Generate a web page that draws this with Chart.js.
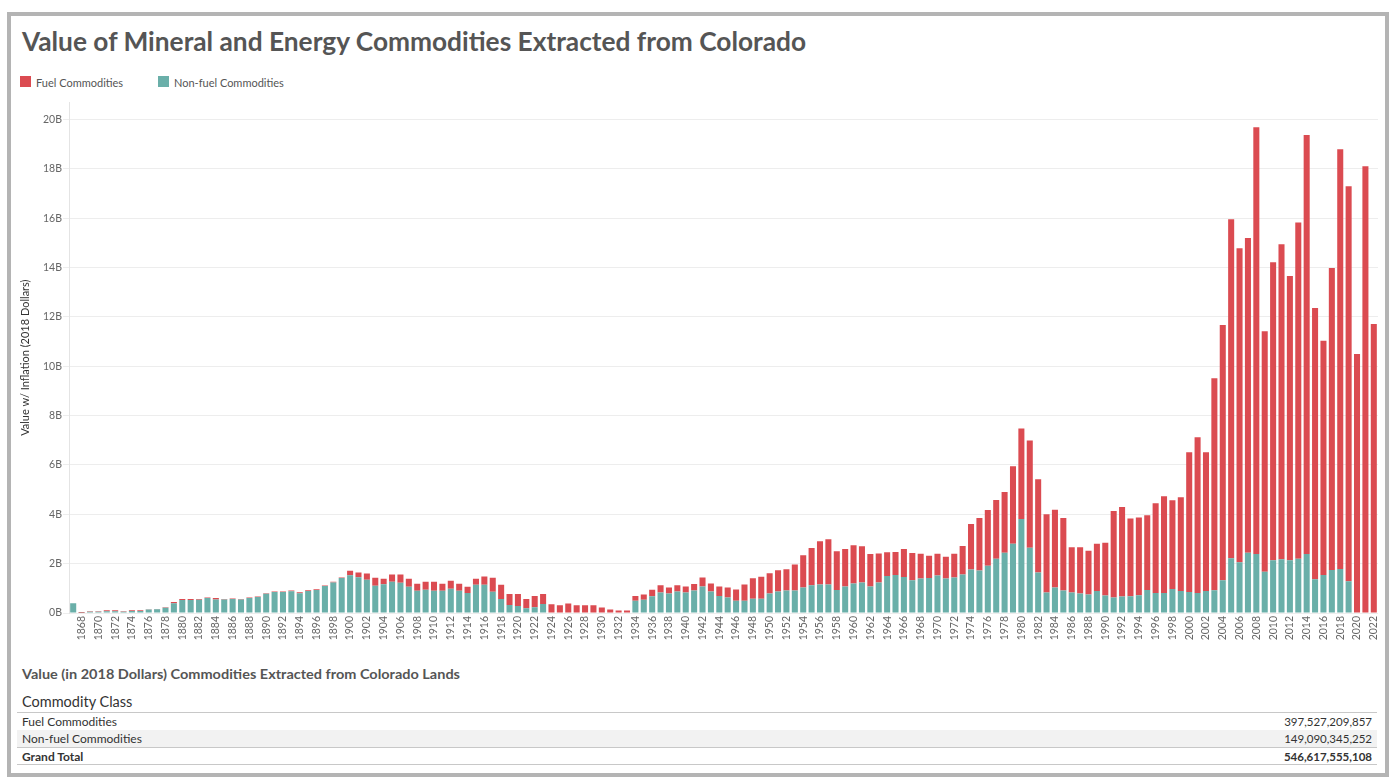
<!DOCTYPE html>
<html>
<head>
<meta charset="utf-8">
<script src="https://cdn.jsdelivr.net/npm/chart.js@4.4.0/dist/chart.umd.min.js"></script>
<style>
body{margin:0;width:1397px;height:783px;background:#fff;font-family:Lato,"Open Sans",sans-serif;overflow:hidden;position:relative}
#frame{position:absolute;left:7px;top:12px;width:1374px;height:757px;border:4px solid #b4b4b4}
.abs{position:absolute;white-space:nowrap}
#title{left:22px;top:28px;font-size:26px;font-weight:700;color:#555;line-height:1;transform-origin:0 0}
.sw{position:absolute;width:11px;height:11px}
.lg{font-size:11px;color:#555;line-height:1}
#chartBox{position:absolute;left:0;top:95px;width:1397px;height:565px}
#tblTitle{left:22px;top:668px;font-size:13px;font-weight:700;color:#555;line-height:1;transform-origin:0 0}
#hdr{left:22px;top:695px;font-size:14.5px;color:#333;line-height:1}
.row{position:absolute;left:17px;width:1360px;height:17px;font-size:12px;color:#333;line-height:17px}
.row span{position:absolute}
.row .v{right:5px;font-size:11.5px}
.row .l{left:5px}
</style>
</head>
<body>
<div id="frame"></div>
<div id="title" class="abs">Value of Mineral and Energy Commodities Extracted from Colorado</div>

<div class="sw" style="left:20px;top:76px;background:#db4b51"></div>
<div class="abs lg" style="left:36px;top:77px">Fuel Commodities</div>
<div class="sw" style="left:158px;top:76px;background:#6aafa9"></div>
<div class="abs lg" style="left:174px;top:77px">Non-fuel Commodities</div>

<div id="chartBox"><canvas id="myChart" width="1397" height="565"></canvas></div>

<div id="tblTitle" class="abs">Value (in 2018 Dollars) Commodities Extracted from Colorado Lands</div>
<div id="hdr" class="abs">Commodity Class</div>
<div style="position:absolute;left:17px;top:712px;width:1360px;height:1px;background:#c8c8c8"></div>
<div class="row" style="top:713px;background:#fff"><span class="l" id="r0l"></span><span class="v" id="r0v"></span></div>
<div class="row" style="top:730px;background:#f2f2f2"><span class="l" id="r1l"></span><span class="v" id="r1v"></span></div>
<div style="position:absolute;left:17px;top:747px;width:1360px;height:1px;background:#c8c8c8"></div>
<div class="row" style="top:748px;font-weight:700"><span class="l" id="r2l"></span><span class="v" id="r2v"></span></div>
<div style="position:absolute;left:17px;top:764px;width:1360px;height:1px;background:#c8c8c8"></div>

<script>
// years 1867..2022, one bar each
const years = [];
for (let y = 1867; y <= 2022; y++) years.push(String(y));

// billions of 2018 dollars
const nonFuel = [
  0.40, 0.01, 0.05, 0.05, 0.07, 0.07, 0.05, 0.08, 0.08, 0.14,   // 1867-1876
  0.15, 0.21, 0.40, 0.53, 0.53, 0.54, 0.61, 0.55, 0.55, 0.57,   // 1877-1886
  0.55, 0.61, 0.65, 0.78, 0.85, 0.85, 0.88, 0.80, 0.89, 0.93,   // 1887-1896
  1.09, 1.24, 1.42, 1.53, 1.45, 1.35, 1.10, 1.17, 1.27, 1.23,   // 1897-1906
  1.06, 0.90, 0.94, 0.90, 0.90, 0.98, 0.90, 0.81, 1.14, 1.14,   // 1907-1916
  0.86, 0.57, 0.32, 0.28, 0.19, 0.23, 0.36, 0, 0, 0,            // 1917-1926
  0, 0, 0, 0, 0, 0, 0, 0.50, 0.54, 0.68,                        // 1927-1936
  0.83, 0.79, 0.87, 0.83, 0.91, 1.07, 0.87, 0.69, 0.63, 0.50,   // 1937-1946
  0.50, 0.58, 0.58, 0.79, 0.87, 0.91, 0.91, 1.03, 1.12, 1.16,   // 1947-1956
  1.16, 0.93, 1.07, 1.20, 1.24, 1.07, 1.24, 1.50, 1.54, 1.46,   // 1957-1966
  1.33, 1.40, 1.42, 1.52, 1.40, 1.44, 1.56, 1.76, 1.72, 1.92,   // 1967-1976
  2.20, 2.44, 2.81, 3.81, 2.64, 1.64, 0.83, 1.03, 0.91, 0.83,   // 1977-1986
  0.79, 0.75, 0.89, 0.71, 0.63, 0.67, 0.68, 0.72, 0.93, 0.81,   // 1987-1996
  0.81, 0.97, 0.89, 0.85, 0.81, 0.89, 0.92, 1.33, 2.22, 2.06,   // 1997-2006
  2.44, 2.39, 1.67, 2.14, 2.18, 2.14, 2.20, 2.39, 1.37, 1.54,   // 2007-2016
  1.74, 1.78, 1.29, 0, 0, 0                                     // 2017-2022
];
const fuel = [
  0, 0.03, 0.02, 0.02, 0.04, 0.04, 0.02, 0.03, 0.03, 0.01,
  0.01, 0.02, 0.05, 0.04, 0.04, 0.03, 0.02, 0.06, 0.02, 0.02,
  0.02, 0.02, 0.02, 0.02, 0.02, 0.02, 0.03, 0.04, 0.03, 0.03,
  0.02, 0.03, 0.02, 0.18, 0.19, 0.25, 0.33, 0.22, 0.29, 0.33,
  0.33, 0.29, 0.33, 0.37, 0.29, 0.33, 0.29, 0.25, 0.25, 0.34,
  0.57, 0.57, 0.45, 0.49, 0.38, 0.46, 0.41, 0.35, 0.31, 0.39,
  0.31, 0.31, 0.31, 0.22, 0.14, 0.10, 0.10, 0.19, 0.21, 0.26,
  0.29, 0.24, 0.25, 0.24, 0.27, 0.37, 0.33, 0.38, 0.40, 0.45,
  0.66, 0.83, 0.89, 0.82, 0.86, 0.86, 1.06, 1.31, 1.51, 1.75,
  1.83, 1.57, 1.52, 1.55, 1.47, 1.32, 1.17, 0.96, 0.93, 1.13,
  1.10, 1.00, 0.90, 0.88, 0.88, 0.96, 1.16, 1.85, 2.13, 2.25,
  2.38, 2.46, 3.14, 3.67, 4.35, 3.78, 3.17, 3.16, 2.94, 1.84,
  1.88, 1.77, 1.92, 2.14, 3.50, 3.63, 3.15, 3.15, 3.03, 3.64,
  3.92, 3.60, 3.80, 5.67, 6.31, 5.63, 8.60, 10.34, 13.74, 12.72,
  12.76, 17.30, 9.75, 12.08, 12.77, 11.52, 13.63, 16.98, 10.99, 9.50,
  12.24, 17.02, 16.01, 10.50, 18.11, 11.71
];

const yTicks = [0, 2, 4, 6, 8, 10, 12, 14, 16, 18, 20];

const tableLabels = ['Fuel Commodities', 'Non-fuel Commodities', 'Grand Total'];
const tableValues = ['397,527,209,857', '149,090,345,252', '546,617,555,108'];

tableLabels.forEach((t, i) => {
    document.getElementById('r' + i + 'l').textContent = t;
    document.getElementById('r' + i + 'v').textContent = tableValues[i];
});

// squeeze a text to the width it has in the picture
function fitWidth(id, w){
    const el = document.getElementById(id);
    const cur = el.getBoundingClientRect().width;
    el.style.transform = 'scaleX(' + (w / cur) + ')';
}
fitWidth('title', 784);
fitWidth('tblTitle', 438);

const ctx = document.getElementById('myChart').getContext('2d');
const myChart = new Chart(ctx, {
    type: 'bar',
    data: {
        labels: years,
        datasets: [
            { label: 'Non-fuel Commodities', data: nonFuel, backgroundColor: '#6aafa9', barPercentage: 0.72, categoryPercentage: 1 },
            { label: 'Fuel Commodities', data: fuel, backgroundColor: '#db4b51', barPercentage: 0.72, categoryPercentage: 1 }
        ]
    },
    options: {
        responsive: false,
        animation: false,
        layout: { padding: { left: 16, top: 7, right: 19, bottom: 0 } },
        plugins: { legend: { display: false }, tooltip: { enabled: false } },
        scales: {
            x: {
                stacked: true,
                grid: { display: false },
                border: { display: false },
                ticks: {
                    autoSkip: false, minRotation: 90, maxRotation: 90, padding: -5,
                    color: '#666', font: { family: 'Lato', size: 10.5 },
                    callback: (v, i) => (Number(years[i]) % 2 === 0 ? years[i] : '')
                },
                afterFit: s => { s.height = 47; }
            },
            y: {
                stacked: true,
                min: 0,
                max: 20.7,
                afterBuildTicks: s => { s.ticks = yTicks.map(v => ({ value: v })); },
                grid: { color: '#ededed', drawTicks: true, tickLength: 6 },
                border: { color: '#e4e4e4' },
                ticks: { padding: 1, color: '#666', font: { family: 'Lato', size: 10.5 }, callback: v => v + 'B' },
                title: {
                    display: true, text: 'Value w/ Inflation (2018 Dollars)', color: '#333',
                    font: { family: 'Lato', size: 11 }, padding: { top: 3, bottom: 0 }
                },
                afterFit: s => { s.width = 53; }
            }
        }
    }
});
</script>
</body>
</html>
